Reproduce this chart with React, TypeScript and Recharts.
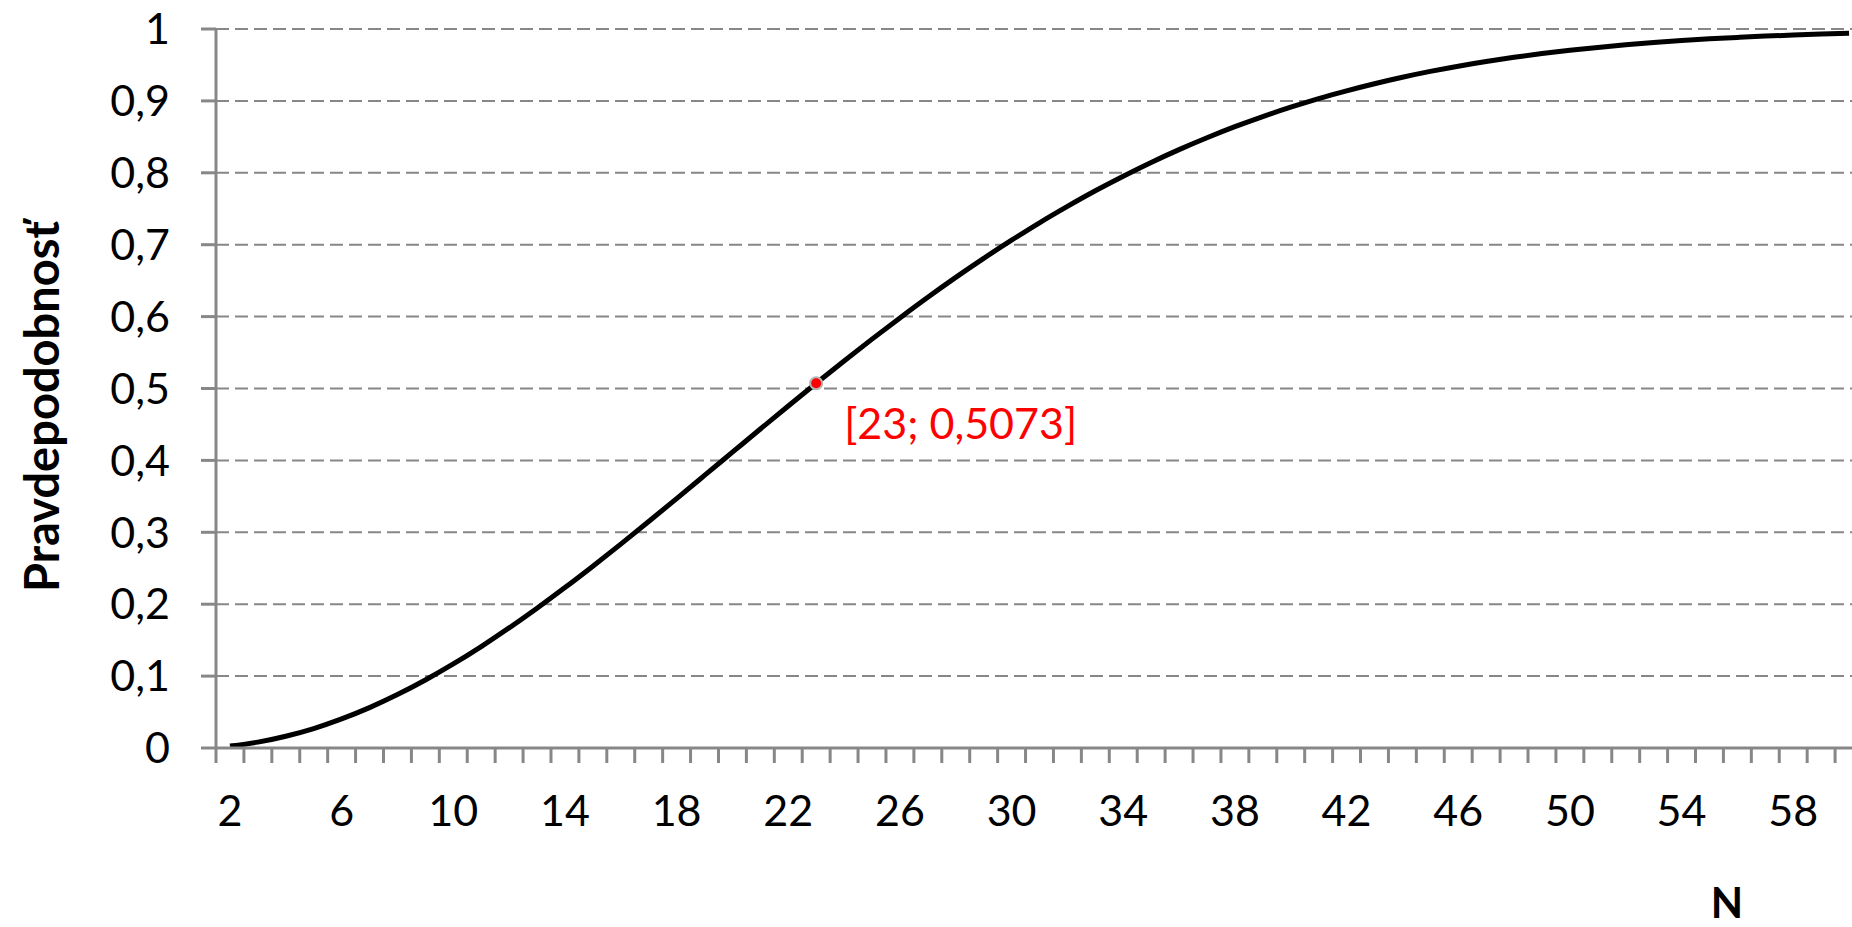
import { CartesianGrid, Line, LineChart, ReferenceDot, XAxis, YAxis } from "recharts";

// N = number of people
const nValues = [
  2, 3, 4, 5, 6, 7, 8, 9, 10, 11, 12, 13, 14, 15, 16, 17, 18, 19, 20, 21, 22, 23, 24, 25, 26, 27, 28, 29, 30, 31,
  32, 33, 34, 35, 36, 37, 38, 39, 40, 41, 42, 43, 44, 45, 46, 47, 48, 49, 50, 51, 52, 53, 54, 55, 56, 57, 58, 59, 60,
];
const probValues = [
  0.0027, 0.0082, 0.0164, 0.0271, 0.0405, 0.0562, 0.0743, 0.0946, 0.1169, 0.1411, 0.167, 0.1944, 0.2231, 0.2529,
  0.2836, 0.315, 0.3469, 0.3791, 0.4114, 0.4437, 0.4757, 0.5073, 0.5383, 0.5687, 0.5982, 0.6269, 0.6545, 0.681,
  0.7063, 0.7305, 0.7533, 0.775, 0.7953, 0.8144, 0.8322, 0.8487, 0.8641, 0.8782, 0.8912, 0.9032, 0.914, 0.9239,
  0.9329, 0.941, 0.9483, 0.9548, 0.9606, 0.9658, 0.9704, 0.9744, 0.978, 0.9811, 0.9839, 0.9863, 0.9883, 0.9901,
  0.9916, 0.9929, 0.9941,
];
const xLabelTicks = [2, 6, 10, 14, 18, 22, 26, 30, 34, 38, 42, 46, 50, 54, 58];
const yTicks = [0, 0.1, 0.2, 0.3, 0.4, 0.5, 0.6, 0.7, 0.8, 0.9, 1];
const highlightN = 23;
const highlightP = 0.5073;

const data = nValues.map((n, i) => ({ n, p: probValues[i] }));
// tick marks sit between categories, like the Excel original
const markTicks = [...nValues.map((n) => n - 0.5), nValues[nValues.length - 1] + 0.5];
const xDomain = [markTicks[0], markTicks[markTicks.length - 1]];

const FONT = "Lato, 'Open Sans', sans-serif";
const AXIS_GRAY = "#878787";
const fmt = (v: number) => String(v).replace(".", ",");

// tick sits on a category boundary; the label goes on the category to its right
const XTick = (props: any) => {
  const { x, y, payload, width } = props;
  const n = payload.value + 0.5;
  if (!xLabelTicks.includes(n)) return <g />;
  const half = (width || 1647) / (markTicks.length - 1) / 2;
  return (
    <text x={x + half} y={y} dy="0.71em" textAnchor="middle" fill="#000" fontSize={43} fontFamily={FONT}>
      {n}
    </text>
  );
};

const App = () => {
  return (
    <div style={{ position: "absolute", left: 0, top: 0, width: 1852, height: 927, overflow: "hidden", background: "#fff" }}>
      <LineChart width={1870} height={927} data={data} margin={{ top: 29, right: 7, left: 0, bottom: 0 }}>
        <CartesianGrid vertical={false} stroke={AXIS_GRAY} strokeWidth={2} strokeDasharray="13 6" />
        <XAxis
          type="number"
          dataKey="n"
          domain={xDomain}
          ticks={markTicks}
          interval={0}
          tick={<XTick />}
          tickSize={15}
          tickMargin={32}
          tickLine={{ stroke: AXIS_GRAY, strokeWidth: 3 }}
          axisLine={{ stroke: AXIS_GRAY, strokeWidth: 3 }}
          height={179}
          allowDataOverflow
          label={{
            content: (props: any) => {
              const vb = props.viewBox;
              return (
                <text
                  x={vb.x + vb.width - 136}
                  y={vb.y + 154}
                  textAnchor="middle"
                  dominantBaseline="central"
                  fontFamily={FONT}
                  fontWeight="bold"
                  fontSize={42}
                  fill="#000"
                >
                  N
                </text>
              );
            },
          }}
        />
        <YAxis
          type="number"
          domain={[0, 1]}
          ticks={yTicks}
          interval={0}
          width={216}
          tickSize={15}
          tickMargin={31}
          tickFormatter={fmt}
          tickLine={{ stroke: AXIS_GRAY, strokeWidth: 3 }}
          axisLine={{ stroke: AXIS_GRAY, strokeWidth: 3 }}
          tick={{ fill: "#000", fontSize: 43, fontFamily: FONT }}
          label={{
            content: (props: any) => {
              const vb = props.viewBox;
              const cx = vb.x + 41;
              const cy = vb.y + vb.height / 2 + 18;
              return (
                <text
                  x={cx}
                  y={cy}
                  transform={`rotate(-90 ${cx} ${cy})`}
                  textAnchor="middle"
                  dominantBaseline="central"
                  fontFamily={FONT}
                  fontWeight="bold"
                  fontSize={47}
                  fill="#000"
                >
                  Pravdepodobnosť
                </text>
              );
            },
          }}
        />
        <Line
          type="monotone"
          dataKey="p"
          stroke="#000"
          strokeWidth={5}
          dot={false}
          activeDot={false}
          isAnimationActive={false}
        />
        <ReferenceDot
          x={highlightN}
          y={highlightP}
          r={6}
          fill="#ff0000"
          stroke="#b4b4b4"
          strokeWidth={2}
          label={{
            content: (props: any) => {
              const vb = props.viewBox;
              return (
                <text
                  x={vb.x + vb.width / 2 + 28}
                  y={vb.y + vb.height / 2 + 39}
                  dominantBaseline="central"
                  fontFamily={FONT}
                  fontSize={43}
                  fill="#ff0000"
                >
                  {`[${highlightN}; ${fmt(highlightP)}]`}
                </text>
              );
            },
          }}
        />
      </LineChart>
    </div>
  );
};

export default App;
